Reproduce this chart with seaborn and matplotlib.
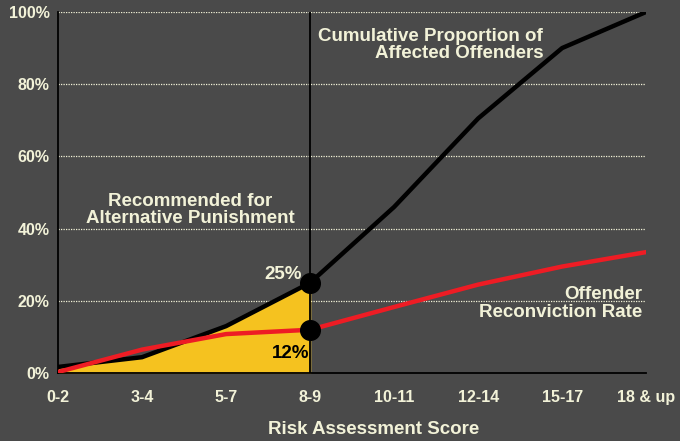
import numpy as np
import pandas as pd
import seaborn as sns
import matplotlib.pyplot as plt

scores = ["0-2", "3-4", "5-7", "8-9", "10-11", "12-14", "15-17", "18 & up"]
cumulative = [1.7, 4.4, 13.0, 25.0, 46.0, 70.5, 90.0, 100.0]
reconviction = [0.3, 6.5, 10.8, 12.0, 18.3, 24.5, 29.5, 33.5]
cut_index = 3

bg = "#4a4a4a"
cream = "#f2f2d8"
yellow = "#f5c21f"
red = "#ee1c24"

sns.set_style("dark")
plt.rcParams["font.family"] = ["Liberation Sans", "DejaVu Sans"]
plt.rcParams["font.weight"] = "bold"

df = pd.DataFrame({"pos": np.arange(len(scores)), "score": scores,
                   "cumulative": cumulative, "reconviction": reconviction})

fig = plt.figure(figsize=(6.8, 4.41), dpi=100, facecolor=bg)
ax = fig.add_axes([0.0853, 0.154, 0.865, 0.819])
ax.set_facecolor(bg)

# shaded area up to the cut-off
sub = df[df.pos <= cut_index]
ax.fill_between(sub.pos, 0, sub.cumulative, color=yellow, zorder=2)

for yv in [20, 40, 60, 80, 100]:
    ax.axhline(yv, color=cream, lw=0.9, ls=(0, (1, 1)), zorder=1)

sns.lineplot(data=df, x="pos", y="cumulative", color="black", lw=3.2, ax=ax, zorder=3)
sns.lineplot(data=df, x="pos", y="reconviction", color=red, lw=3.2, ax=ax, zorder=4)

ax.plot([cut_index, cut_index], [0, 100], color="black", lw=1.3, zorder=3)
ax.scatter([cut_index, cut_index], [cumulative[cut_index], reconviction[cut_index]],
           s=200, color="black", zorder=6)

ax.set_xlim(0, len(scores) - 1)
ax.set_ylim(0, 100)
ax.set_xticks(df.pos)
ax.set_xticklabels(scores)
ax.set_yticks([0, 20, 40, 60, 80, 100])
ax.set_yticklabels([f"{v}%" for v in [0, 20, 40, 60, 80, 100]])
ax.tick_params(colors=cream, labelsize=11.5, length=0)
ax.tick_params(axis="x", pad=12)
ax.tick_params(axis="y", pad=6)
for lab in ax.get_xticklabels() + ax.get_yticklabels():
    lab.set_fontweight("bold")
ax.set_xlabel("Risk Assessment Score", color=cream, fontsize=13.5, fontweight="bold")
ax.xaxis.set_label_coords(0.537, -0.133)
ax.set_ylabel("")
ax.grid(False)

for side in ["top", "right"]:
    ax.spines[side].set_visible(False)
for side in ["left", "bottom"]:
    ax.spines[side].set_visible(True)
    ax.spines[side].set_color("black")
    ax.spines[side].set_linewidth(1.3)

note = dict(color=cream, fontsize=13.5, fontweight="bold", va="baseline")
ax.text(1.571, 46.3, "Recommended for", ha="center", **note)
ax.text(1.571, 41.55, "Alternative Punishment", ha="center", **note)
ax.text(5.774, 91.97, "Cumulative Proportion of", ha="right", **note)
ax.text(5.774, 87.26, "Affected Offenders", ha="right", **note)
ax.text(6.952, 20.5, "Offender", ha="right", **note)
ax.text(6.952, 15.5, "Reconviction Rate", ha="right", **note)
ax.text(2.905, 26.0, "25%", ha="right", **note)
ax.text(2.988, 4.15, "12%", ha="right", **{**note, "color": "black"})

fig.savefig("out.png", dpi=100, facecolor=bg)
